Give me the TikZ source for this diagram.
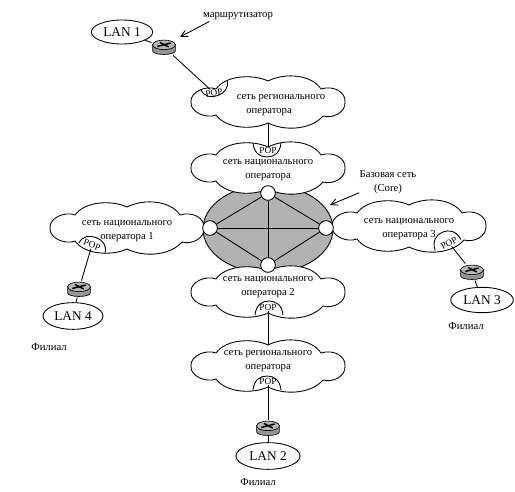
\documentclass[tikz,border=0pt]{standalone}
\usepackage{fontspec}
\setmainfont{Liberation Serif}
\usepackage{xcolor}
\usetikzlibrary{arrows.meta, shapes.geometric}
\definecolor{coreGray}{HTML}{B2B2B2}
\definecolor{routerGray}{HTML}{969696}
\tikzset{
    labeltext/.style={font=\fontsize{8}{10.5}\selectfont, inner sep=0pt, align=center},
    lantext/.style={draw, ellipse, fill=white, font=\fontsize{10}{12}\selectfont, inner sep=0pt},
    poptext/.style={font=\fontsize{7}{8}\selectfont, inner sep=0.5pt},
    hubnode/.style={draw, circle, fill=white, inner sep=0pt, minimum size=11pt},
    routerbox/.style={inner sep=0pt, minimum width=18pt, minimum height=12pt, path picture={
        \fill[routerGray, draw=black, line width=0.5pt]
            (-8.5pt, 2pt) -- (-8.5pt, -3pt) arc[start angle=180, end angle=360, x radius=8.5pt, y radius=2.6pt]
            -- (8.5pt, 2pt) -- cycle;
        \fill[routerGray!70, draw=black, line width=0.5pt] (0, 1.6pt) ellipse[x radius=8.5pt, y radius=3.6pt];
        \draw[line width=1.1pt] (-5pt, 0.4pt) -- (5pt, 3pt) (-3pt, 3.4pt) -- (3.5pt, 0pt);
    }},
    pics/netcloud/.style={code={
        \draw[fill=white] (-77,0) .. controls (-78,-10) and (-62,-17) .. (-52,-13)
            .. controls (-42,-27) and (-15,-28) .. (0,-21)
            .. controls (18,-30) and (44,-27) .. (53,-13)
            .. controls (65,-17) and (78,-10) .. (77,0)
            .. controls (78,10) and (65,17) .. (55,14)
            .. controls (44,27) and (18,30) .. (0,21)
            .. controls (-15,28) and (-42,27) .. (-52,13)
            .. controls (-62,17) and (-78,10) .. (-77,0) -- cycle;
        \coordinate (-north) at (0,-21);
        \coordinate (-south) at (0,21);
    }},
    pics/popcap/.style={code={
        \draw (-14,0) .. controls (-13,-10) and (-7,-14) .. (0,-14) .. controls (7,-14) and (13,-10) .. (14,0);
    }}
}
\begin{document}
\begin{tikzpicture}[x=0.75pt, y=-0.75pt, line width=0.65pt, >={Straight Barb[length=5pt, width=5pt]}]
    \useasboundingbox (0,0) rectangle (515,492);

    % backbone
    \draw[fill=coreGray] (268,229) ellipse[x radius=65, y radius=44];

    \foreach \cname/\cx/\cy in {regTop/268/102, natTop/268/168, natLeft/127/228,
                                natRight/409/226, natBot/268/292, regBot/268/366}
        \pic (\cname) at (\cx,\cy) {netcloud};

    \node[hubnode] (hubN) at (268,193) {};
    \node[hubnode] (hubW) at (210,228) {};
    \node[hubnode] (hubE) at (326,228) {};
    \node[hubnode] (hubS) at (268,265) {};
    \foreach \a/\b in {hubN/hubW, hubN/hubE, hubN/hubS, hubW/hubE, hubW/hubS, hubE/hubS}
        \draw (\a) -- (\b);

    % cloud texts
    \node[labeltext] (txtRegTop) at (281,105) {сеть регионального\\оператора\hspace*{18pt}};
    \node[labeltext] (txtNatTop) at (268,170) {сеть национального\\оператора};
    \node[labeltext] (txtNatLeft) at (127,231) {сеть национального\\оператора 1};
    \node[labeltext] (txtNatRight) at (409,229) {сеть национального\\оператора 3};
    \node[labeltext] (txtNatBot) at (268,287) {сеть национального\\оператора 2};
    \node[labeltext] (txtRegBot) at (268,361) {сеть регионального\\оператора};

    % POP caps
    \pic[rotate=200, yscale=0.8] at (214,85) {popcap};
    \pic[rotate=180] at (267,143) {popcap};
    \pic[rotate=-21, yscale=0.8] at (92,248) {popcap};
    \pic[rotate=23] at (448,245) {popcap};
    \pic at (269,315) {popcap};
    \pic at (267,390) {popcap};
    \node[poptext, rotate=10] (popRegTop) at (214,93) {POP};
    \node[poptext] (popNatTop) at (268,150) {POP};
    \node[poptext, rotate=-20] (popNatLeft) at (92,245) {POP};
    \node[poptext, rotate=28] (popNatRight) at (449,243) {POP};
    \node[poptext] (popNatBot) at (268,307) {POP};
    \node[poptext] (popRegBot) at (268,381) {POP};

    % LANs and routers
    \node[lantext, minimum width=46pt, minimum height=18pt] (lanA) at (122,32) {LAN 1};
    \node[lantext, minimum width=48pt, minimum height=20pt] (lanB) at (268,456) {LAN 2};
    \node[lantext, minimum width=47pt, minimum height=19pt] (lanC) at (482,300) {LAN 3};
    \node[lantext, minimum width=45pt, minimum height=20pt] (lanD) at (73,316) {LAN 4};
    \node[routerbox] (rtrA) at (164,47) {};
    \node[routerbox] (rtrB) at (268,428) {};
    \node[routerbox] (rtrC) at (472,272) {};
    \node[routerbox] (rtrD) at (79,289) {};

    \draw (lanA) -- (rtrA);
    \draw (rtrA) -- (popRegTop);
    \draw (regTop-south) -- (popNatTop);
    \draw (popNatBot) -- (regBot-north);
    \draw (popRegBot) -- (rtrB);
    \draw (rtrB) -- (lanB);
    \draw (popNatRight) -- (rtrC);
    \draw (rtrC) -- (lanC);
    \draw (popNatLeft) -- (rtrD);
    \draw (rtrD) -- (lanD);

    % free labels
    \node[labeltext] (lblRouter) at (238,16) {маршрутизатор};
    \node[labeltext] (lblCore) at (388,182) {Базовая сеть\\(Core)};
    \node[labeltext] (lblBranchD) at (49,347) {Филиал};
    \node[labeltext] (lblBranchC) at (466,326) {Филиал};
    \node[labeltext] (lblBranchB) at (258,482) {Филиал};

    \coordinate (tipRouter) at (180,37);
    \coordinate (tipCore) at (330,205);
    \draw[->] ([xshift=5pt, yshift=-1pt]lblRouter.south west) -- (tipRouter);
    \draw[->] ([yshift=1pt]lblCore.south west) -- (tipCore);
\end{tikzpicture}
\end{document}
